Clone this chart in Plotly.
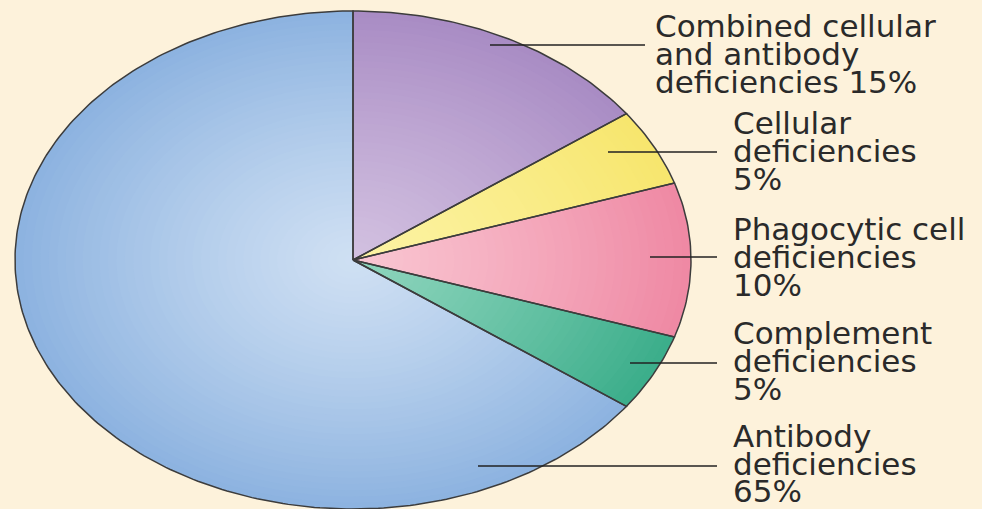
import numpy as np
import plotly.graph_objects as go

# ---- data ----
categories = [
    "Combined cellular and antibody deficiencies",
    "Cellular deficiencies",
    "Phagocytic cell deficiencies",
    "Complement deficiencies",
    "Antibody deficiencies",
]
values = [15, 5, 10, 5, 65]
label_lines = [
    ["Combined cellular", "and antibody", "deficiencies 15%"],
    ["Cellular", "deficiencies", "5%"],
    ["Phagocytic cell", "deficiencies", "10%"],
    ["Complement", "deficiencies", "5%"],
    ["Antibody", "deficiencies", "65%"],
]

# ---- style ----
center_colors = ["#d2c0e0", "#fcf3a4", "#f9c6d2", "#8fd5bd", "#cfe0f3"]
edge_colors = ["#a98cc4", "#f7e66e", "#ef89a4", "#3cae8b", "#8db3e0"]
outline = "#3c3c3c"
bg = "#fdf2db"
W, H = 982, 509
CX, CY, RX, RY = 353, 260, 338, 249   # pie centre / radii in pixels

# label blocks (pixel positions): text left x, baselines, leader line y, x0, x1
label_pos = [
    dict(tx=654, base=[37, 65, 93], ly=45, lx0=490, lx1=645),
    dict(tx=732, base=[134, 162, 190], ly=152, lx0=608, lx1=717),
    dict(tx=732, base=[240, 268, 296], ly=257, lx0=650, lx1=717),
    dict(tx=732, base=[344, 372, 400], ly=363, lx0=630, lx1=717),
    dict(tx=732, base=[447, 475, 502], ly=466, lx0=478, lx1=717),
]
FS = 31


def hex2rgb(h):
    h = h.lstrip("#")
    return np.array([int(h[i:i + 2], 16) for i in (0, 2, 4)], dtype=float)


def mix(c1, c2, t):
    c = hex2rgb(c1) * (1 - t) + hex2rgb(c2) * t
    return "rgb(%d,%d,%d)" % tuple(np.round(c).astype(int))


fig = go.Figure()

total = float(sum(values))
cum = np.concatenate([[0], np.cumsum(values)]) / total
N_RINGS = 40

for i, v in enumerate(values):
    a0 = np.pi / 2 - 2 * np.pi * cum[i]
    a1 = np.pi / 2 - 2 * np.pi * cum[i + 1]
    th = np.linspace(a0, a1, max(8, int(400 * v / total)))
    for k in range(N_RINGS, 0, -1):
        r = k / N_RINGS
        xs = np.concatenate([[0], r * np.cos(th), [0]])
        ys = np.concatenate([[0], r * np.sin(th), [0]])
        fig.add_trace(go.Scatter(
            x=xs, y=ys, mode="lines", fill="toself",
            fillcolor=mix(center_colors[i], edge_colors[i], r ** 1.2),
            line=dict(width=0), hoverinfo="skip", showlegend=False))

# outlines
for i, v in enumerate(values):
    a0 = np.pi / 2 - 2 * np.pi * cum[i]
    a1 = np.pi / 2 - 2 * np.pi * cum[i + 1]
    th = np.linspace(a0, a1, max(8, int(400 * v / total)))
    xs = np.concatenate([[0], np.cos(th), [0]])
    ys = np.concatenate([[0], np.sin(th), [0]])
    fig.add_trace(go.Scatter(
        x=xs, y=ys, mode="lines", line=dict(color=outline, width=1.5),
        hovertext=f"{categories[i]}: {v}%", hoverinfo="text", showlegend=False))

# labels and leader lines
for lines, p in zip(label_lines, label_pos):
    for txt, b in zip(lines, p["base"]):
        yc = b - 0.346 * FS
        fig.add_annotation(
            x=p["tx"] / W, y=1 - yc / H, xref="paper", yref="paper",
            text=txt, showarrow=False, xanchor="left", yanchor="middle",
            font=dict(family="DejaVu Sans", size=FS, color="#2a2a2a"),
            borderpad=0)
    fig.add_shape(type="line", xref="paper", yref="paper",
                  x0=p["lx0"] / W, x1=p["lx1"] / W,
                  y0=1 - p["ly"] / H, y1=1 - p["ly"] / H,
                  line=dict(color="#222222", width=1.5))

fig.update_layout(
    width=W, height=H,
    margin=dict(l=0, r=0, t=0, b=0, pad=0),
    paper_bgcolor=bg, plot_bgcolor=bg,
    xaxis=dict(range=[-CX / RX, (W - CX) / RX], visible=False, fixedrange=True),
    yaxis=dict(range=[(CY - H) / RY, CY / RY], visible=False, fixedrange=True),
    showlegend=False,
)

fig.write_html(
    "out.html",
    config={"displayModeBar": False},
    post_script="document.body.style.margin='0';document.body.style.background='%s';" % bg,
)
